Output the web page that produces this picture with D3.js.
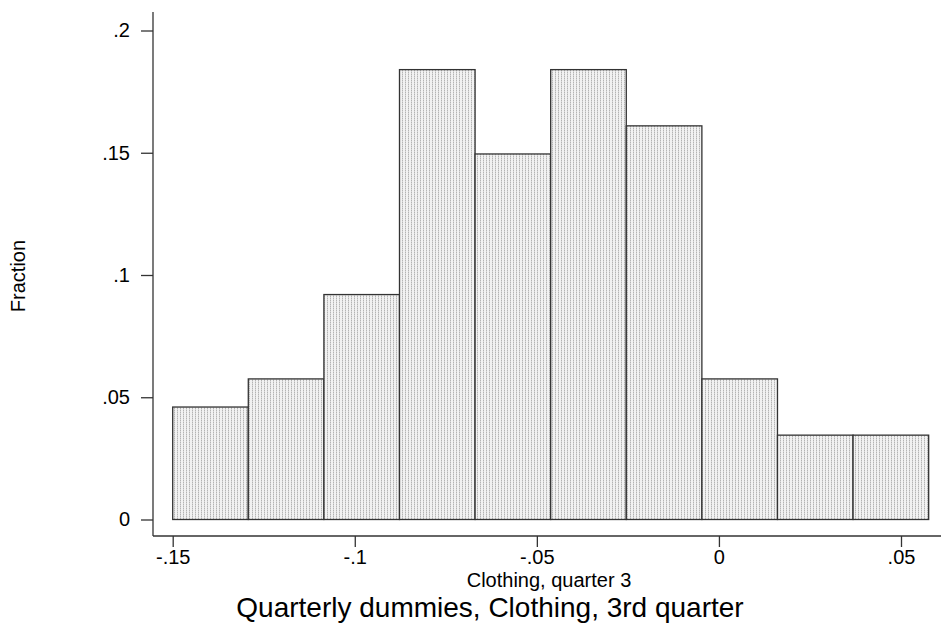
<!DOCTYPE html>
<html>
<head>
<meta charset="utf-8">
<script src="https://cdn.jsdelivr.net/npm/d3@7"></script>
<style>
  body { margin: 0; background: #fff; }
  text { font-family: Arial, "Liberation Sans", sans-serif; fill: #000; }
</style>
</head>
<body>
<div id="chart"></div>
<script>
// histogram bins (Stata style), fraction per bin
var binStart = -0.15,
    binWidth = 0.02076;
var fractions = [0.046, 0.0575, 0.092, 0.184, 0.1495, 0.184, 0.161, 0.0575, 0.0345, 0.0345];
var xTicks = [-0.15, -0.1, -0.05, 0, 0.05];
var xTickLabels = ["-.15", "-.1", "-.05", "0", ".05"];
var yTicks = [0, 0.05, 0.1, 0.15, 0.2];
var yTickLabels = ["0", ".05", ".1", ".15", ".2"];

var width = 941,
    height = 625;

var svg = d3.select("#chart")
  .append("svg")
  .attr("width", width)
  .attr("height", height);

// dotted gray fill like stata's bar shading
var defs = svg.append("defs");
var pat = defs.append("pattern")
  .attr("id", "dots")
  .attr("patternUnits", "userSpaceOnUse")
  .attr("width", 3)
  .attr("height", 2);
pat.append("rect").attr("width", 3).attr("height", 2).attr("fill", "#f2f2f2");
pat.append("rect").attr("x", 0).attr("y", 0).attr("width", 1).attr("height", 1).attr("fill", "#b4b4b4");
pat.append("rect").attr("x", 0).attr("y", 1).attr("width", 1).attr("height", 1).attr("fill", "#d6d6d6");

var x = d3.scaleLinear().domain([-0.15, 0.05]).range([172.7, 901]);
var y = d3.scaleLinear().domain([0, 0.2]).range([519.5, 30.5]);

var axisX = 153, axisY = 536;

var bins = fractions.map(function(f, i) {
  return { x0: binStart + i * binWidth, x1: binStart + (i + 1) * binWidth, v: f };
});

svg.selectAll(".bar")
  .data(bins)
  .enter().append("rect")
  .attr("class", "bar")
  .attr("x", function(d) { return x(d.x0); })
  .attr("y", function(d) { return y(d.v); })
  .attr("width", function(d) { return x(d.x1) - x(d.x0); })
  .attr("height", function(d) { return y(0) - y(d.v); })
  .attr("fill", "url(#dots)")
  .attr("stroke", "#333")
  .attr("stroke-width", 1.3);

// y axis
var yAxis = d3.axisLeft(y)
  .tickValues(yTicks)
  .tickFormat(function(d, i) { return yTickLabels[i]; })
  .tickSize(12)
  .tickPadding(11);

var gy = svg.append("g")
  .attr("transform", "translate(" + axisX + ",0)")
  .call(yAxis);
gy.select(".domain").remove();
gy.append("line")
  .attr("x1", 0).attr("x2", 0)
  .attr("y1", 12).attr("y2", axisY)
  .attr("stroke", "#333").attr("stroke-width", 1.3);
gy.selectAll(".tick line").attr("stroke", "#333").attr("stroke-width", 1.3);
gy.selectAll(".tick text")
  .style("font-size", "20px")
  .style("font-family", "Arial, 'Liberation Sans', sans-serif")
  .attr("fill", "#000");

// x axis
var xAxis = d3.axisBottom(x)
  .tickValues(xTicks)
  .tickFormat(function(d, i) { return xTickLabels[i]; })
  .tickSize(11)
  .tickPadding(3);

var gx = svg.append("g")
  .attr("transform", "translate(0," + axisY + ")")
  .call(xAxis);
gx.select(".domain").remove();
gx.append("line")
  .attr("x1", axisX).attr("x2", width)
  .attr("y1", 0).attr("y2", 0)
  .attr("stroke", "#333").attr("stroke-width", 1.3);
gx.selectAll(".tick line").attr("stroke", "#333").attr("stroke-width", 1.3);
gx.selectAll(".tick text")
  .style("font-size", "20px")
  .style("font-family", "Arial, 'Liberation Sans', sans-serif")
  .attr("fill", "#000");

// titles
svg.append("text")
  .attr("x", 549)
  .attr("y", 587)
  .attr("text-anchor", "middle")
  .style("font-size", "20px")
  .text("Clothing, quarter 3");

svg.append("text")
  .attr("transform", "translate(25,276) rotate(-90)")
  .attr("text-anchor", "middle")
  .style("font-size", "20px")
  .text("Fraction");

svg.append("text")
  .attr("x", 490)
  .attr("y", 617)
  .attr("text-anchor", "middle")
  .style("font-size", "28px")
  .text("Quarterly dummies, Clothing, 3rd quarter");
</script>
</body>
</html>
